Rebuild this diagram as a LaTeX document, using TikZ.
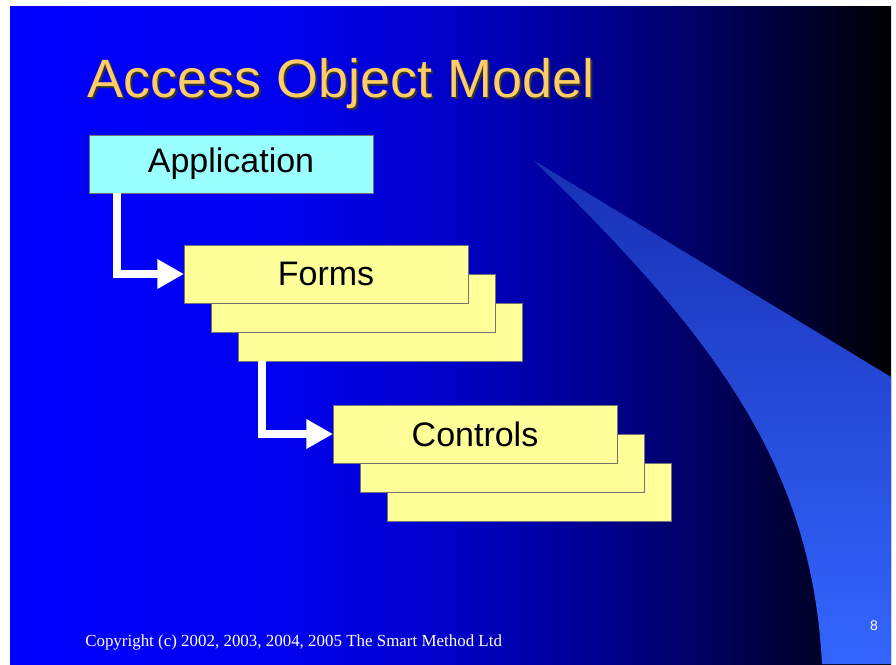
\documentclass[tikz,border=0pt]{standalone}
\usepackage{fontspec}
\setmainfont{Liberation Serif}
\setsansfont{Liberation Sans}
\usepackage{xcolor}
\usepackage{tikz}
\usetikzlibrary{arrows.meta, positioning, calc}
\definecolor{titlecolor}{HTML}{FFCC66}
\definecolor{appcolor}{HTML}{99FFFF}
\definecolor{itemcolor}{HTML}{FFFF99}
\definecolor{swooshcolor}{HTML}{3366FF}
\definecolor{swooshmid}{HTML}{2C55E0}
\definecolor{swooshtip}{HTML}{1830B4}
\definecolor{bgA}{HTML}{0000FF}
\definecolor{bgB}{HTML}{0000F0}
\definecolor{bgC}{HTML}{0000C8}
\definecolor{bgD}{HTML}{000092}
\definecolor{bgE}{HTML}{00005C}
\definecolor{bgF}{HTML}{000030}
\definecolor{bgG}{HTML}{000000}
\pgfdeclarehorizontalshading{slidebg}{100bp}{color(0bp)=(bgA); color(25bp)=(bgA); color(40bp)=(bgB); color(50bp)=(bgC); color(58bp)=(bgD); color(65bp)=(bgE); color(70bp)=(bgF); color(75bp)=(bgG); color(100bp)=(bgG)}

\begin{document}
\begin{tikzpicture}[
    x=0.75pt, y=-0.75pt,
    appbox/.style={draw=black!55, line width=0.5pt, fill=appcolor, minimum width=213pt, minimum height=43.5pt, inner sep=0pt, outer sep=0pt, font=\sffamily\fontsize{25.5}{30}\selectfont},
    itembox/.style={appbox, fill=itemcolor},
    flow/.style={draw=white, line width=6pt, -{Triangle[length=20pt, width=21pt]}},
    titletext/.style={anchor=base west, inner sep=0pt, font=\sffamily\fontsize{40.5}{48}\selectfont}
]
    % Slide background
    \useasboundingbox (0,0) rectangle (896,664);
    \fill[white] (0,0) rectangle (896,664);
    \shade[shading=slidebg] (10,6) rectangle (891,664);
    \shade[top color=swooshtip, middle color=swooshmid, bottom color=swooshcolor]
        (533,160) -- (891,377) -- (891,664) -- (822,664)
        .. controls (812,470) and (720,340) .. (533,160) -- cycle;

    % Title
    \node[titletext, text=black!80] (titleshadow) at (89,99) {Access Object Model};
    \node[titletext, text=titlecolor] (title) at (87,97) {Access Object Model};

    % Object hierarchy
    \node[appbox] (app) at (231,164) {Application};
    \node[itembox] (forms3) at (380,332) {};
    \node[itembox] (forms2) at (353,303) {};
    \node[itembox] (forms) at (326,274) {Forms};
    \node[itembox] (ctrl3) at (529,492) {};
    \node[itembox] (ctrl2) at (502,463) {};
    \node[itembox] (ctrl) at (475,434) {Controls};

    % Connections
    \draw[flow] ([xshift=21pt]app.south west) |- (forms.west);
    \draw[flow] ([xshift=18pt]forms3.south west) |- (ctrl.west);

    % Footer
    \node[anchor=base west, inner sep=0pt, text=white, font=\fontsize{12.7}{15}\selectfont] (copyright) at (85,646) {Copyright (c) 2002, 2003, 2004, 2005 The Smart Method Ltd};
    \node[text=white, inner sep=0pt, font=\sffamily\fontsize{10.5}{12}\selectfont] (page) at (874,626) {8};
\end{tikzpicture}
\end{document}
